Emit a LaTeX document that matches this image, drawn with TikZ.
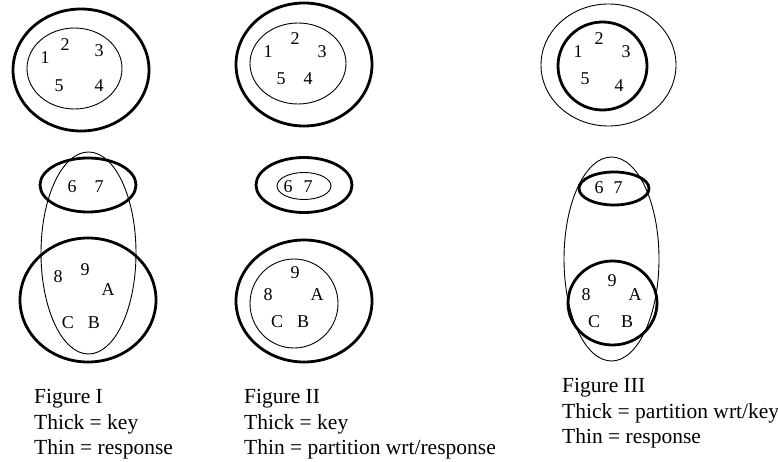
\documentclass[tikz,border=0pt]{standalone}
\usepackage{fontspec}
\setmainfont{Liberation Serif}
\begin{document}
\begin{tikzpicture}[x=1pt,y=-1pt,
  thickset/.style={draw=black,line width=2.8pt},
  thinset/.style={draw=black,line width=0.9pt},
  elem/.style={inner sep=0pt,font=\fontsize{18}{18}\selectfont},
  captext/.style={anchor=base west,inner sep=0pt,font=\fontsize{21.5}{25}\selectfont}]
\useasboundingbox (0,0) rectangle (778,462);

% ---------- Figure I ----------
\draw[thickset] (81,70) ellipse [x radius=68pt, y radius=61pt];
\draw[thinset] (74.5,68.5) ellipse [x radius=47.5pt, y radius=40.5pt];
\node[elem] (a1) at (45,58) {1};
\node[elem] (a2) at (65,45) {2};
\node[elem] (a3) at (99,51) {3};
\node[elem] (a5) at (59,86) {5};
\node[elem] (a4) at (99,86) {4};

\draw[thickset] (88,185) ellipse [x radius=48pt, y radius=27pt];
\draw[thinset] (88.5,253) ellipse [x radius=47.5pt, y radius=101pt];
\draw[thickset] (88,300) ellipse [x radius=68pt, y radius=62pt];
\node[elem] (a6) at (72,187) {6};
\node[elem] (a7) at (99,187) {7};
\node[elem] (a8) at (58,277) {8};
\node[elem] (a9) at (85,270) {9};
\node[elem] (aA) at (108,290) {A};
\node[elem] (aC) at (68,323) {C};
\node[elem] (aB) at (94,323) {B};

\node[captext] (capIa) at (34,403) {Figure I};
\node[captext] (capIb) at (34,429) {Thick = key};
\node[captext] (capIc) at (34,454) {Thin = response};

% ---------- Figure II ----------
\draw[thickset] (304,64.5) ellipse [x radius=68pt, y radius=61.5pt];
\draw[thinset] (298,63.5) ellipse [x radius=48pt, y radius=40.5pt];
\node[elem] (b1) at (268,52) {1};
\node[elem] (b2) at (295,39) {2};
\node[elem] (b3) at (322,52) {3};
\node[elem] (b5) at (281,79) {5};
\node[elem] (b4) at (308,79) {4};

\draw[thickset] (304,185) ellipse [x radius=48pt, y radius=27.5pt];
\draw[thinset] (304,186) ellipse [x radius=27pt, y radius=13.5pt];
\node[elem] (b6) at (288,187) {6};
\node[elem] (b7) at (308,187) {7};

\draw[thickset] (304,301) ellipse [x radius=68pt, y radius=61pt];
\draw[thinset] (294,303.5) ellipse [x radius=44pt, y radius=44.5pt];
\node[elem] (b9) at (295,273) {9};
\node[elem] (b8) at (268,295) {8};
\node[elem] (bA) at (317,295) {A};
\node[elem] (bC) at (277,322) {C};
\node[elem] (bB) at (303,322) {B};

\node[captext] (capIIa) at (244,403) {Figure II};
\node[captext] (capIIb) at (244,429) {Thick = key};
\node[captext] (capIIc) at (244,454) {Thin = partition wrt/response};

% ---------- Figure III ----------
\draw[thinset] (608.5,65) ellipse [x radius=67.5pt, y radius=61pt];
\draw[thickset] (602.5,66) ellipse [x radius=44.5pt, y radius=44pt];
\node[elem] (c1) at (578,52) {1};
\node[elem] (c2) at (599,39) {2};
\node[elem] (c3) at (626,52) {3};
\node[elem] (c5) at (585,79) {5};
\node[elem] (c4) at (619,86) {4};

\draw[thinset] (611.5,259) ellipse [x radius=47.5pt, y radius=102pt];
\draw[thickset] (614,188.5) ellipse [x radius=35pt, y radius=16.5pt];
\draw[thickset] (612.5,303) ellipse [x radius=44.5pt, y radius=42pt];
\node[elem] (c6) at (599,188) {6};
\node[elem] (c7) at (618,188) {7};
\node[elem] (c9) at (612,281) {9};
\node[elem] (c8) at (586,295) {8};
\node[elem] (cA) at (635,295) {A};
\node[elem] (cC) at (594,322) {C};
\node[elem] (cB) at (627,322) {B};

\node[captext] (capIIIa) at (562,392) {Figure III};
\node[captext] (capIIIb) at (562,418) {Thick = partition wrt/key};
\node[captext] (capIIIc) at (562,443) {Thin = response};
\end{tikzpicture}
\end{document}
